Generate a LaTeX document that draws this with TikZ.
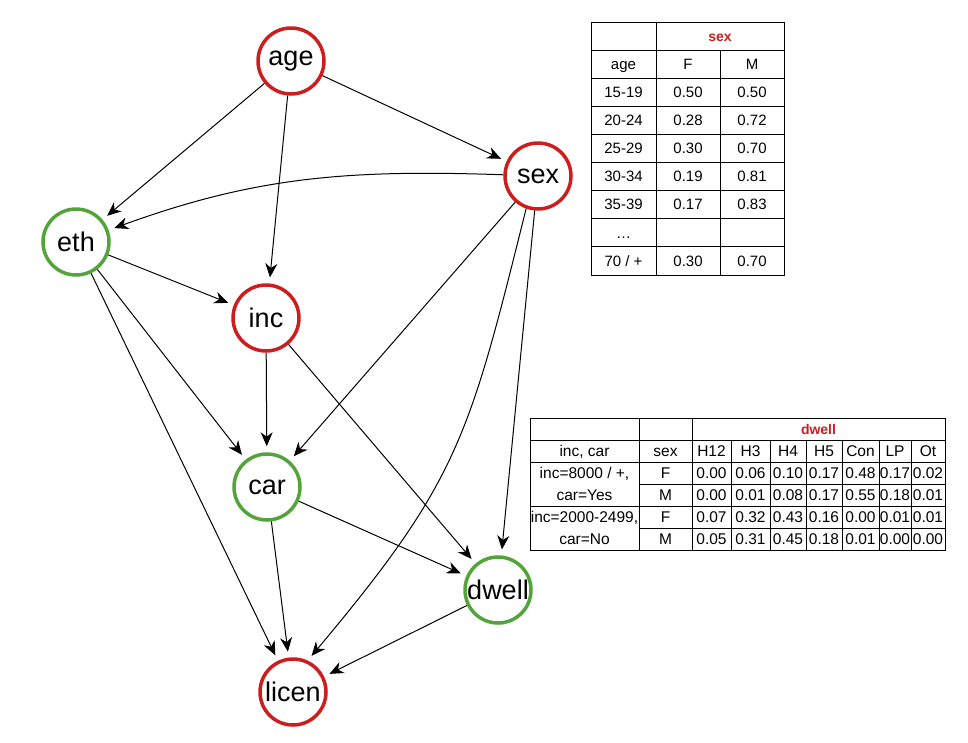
\documentclass[tikz,border=0pt]{standalone}
\usepackage{fontspec}
\setmainfont{Liberation Sans}
\usetikzlibrary{arrows.meta}
\definecolor{varred}{RGB}{204,30,30}
\definecolor{vargreen}{RGB}{84,164,60}

\begin{document}
\begin{tikzpicture}[x=1pt, y=1pt,
		var/.style={circle, draw, line width=3.5pt, minimum size=66pt, inner sep=0pt, font=\fontsize{27}{30}\selectfont},
		redvar/.style={var, draw=varred},
		greenvar/.style={var, draw=vargreen},
		dep/.style={-{Stealth[length=14pt, width=12pt, inset=4.5pt]}, line width=1pt, shorten >=6pt},
		grid/.style={line width=0.9pt},
		cell/.style={inner sep=0pt, text height=10.5pt, text depth=0pt, font=\fontsize{15}{17}\selectfont},
		dcell/.style={inner sep=0pt, text height=11pt, text depth=0pt, font=\fontsize{15.5}{17}\selectfont},
		headcell/.style={cell, text=varred, font=\bfseries\fontsize{14}{16}\selectfont}]
		
		\useasboundingbox (0,0) rectangle (968,-742);
		
		% Variables
		\node[redvar] (age) at (291,-61) {age};
		\node[redvar] (sex) at (538,-176) {sex};
		\node[greenvar] (eth) at (76,-242) {eth};
		\node[redvar] (inc) at (266,-318) {inc};
		\node[greenvar] (car) at (267,-487) {car};
		\node[greenvar] (dwell) at (498,-590) {dwell};
		\node[redvar] (licen) at (293,-692) {licen};
		
		% Dependencies
		\draw[dep] (age) -- (eth);
		\draw[dep] (age) -- (inc);
		\draw[dep] (age) -- (sex);
		\draw[dep] (sex) to[out=178, in=20] (eth);
		\draw[dep] (eth) -- (inc);
		\draw[dep] (eth) -- (car);
		\draw[dep] (eth) -- (licen);
		\draw[dep] (inc) -- (car);
		\draw[dep] (inc) -- (dwell);
		\draw[dep] (sex) -- (car);
		\draw[dep] (sex) -- (dwell);
		\draw[dep] (sex.250) to[out=256, in=50, looseness=1.2] (licen.65);
		\draw[dep] (car) -- (dwell);
		\draw[dep] (car) -- (licen);
		\draw[dep] (dwell) -- (licen);
		
		% Table sex
		\draw[grid] (591,-22) rectangle (784,-275);
		\foreach \k in {1,...,8}
			\draw[grid] (591,{-22-28.11*\k}) -- (784,{-22-28.11*\k});
		\draw[grid] (656,-22) -- (656,-275);
		\draw[grid] (720,-50.11) -- (720,-275);
		\node[headcell] (sexhead) at (720,-36) {sex};
		\foreach \r/\a/\f/\m in {2/age/F/M, 3/15-19/0.50/0.50, 4/20-24/0.28/0.72,
				5/25-29/0.30/0.70, 6/30-34/0.19/0.81, 7/35-39/0.17/0.83, 8/…//, 9/{70 / +}/0.30/0.70} {
			\node[cell] (s\r-a) at (623.5,{-22-28.11*(\r-0.5)}) {\a};
			\node[cell] (s\r-f) at (688,{-22-28.11*(\r-0.5)}) {\f};
			\node[cell] (s\r-m) at (752,{-22-28.11*(\r-0.5)}) {\m};
		}
		
		% Table dwell
		\draw[grid] (530,-418) rectangle (945,-550);
		\foreach \y in {-440,-462,-506}
			\draw[grid] (530,\y) -- (945,\y);
		\foreach \y in {-484,-528}
			\draw[grid] (639,\y) -- (945,\y);
		\foreach \x in {639,692}
			\draw[grid] (\x,-418) -- (\x,-550);
		\foreach \x in {731,770,806,842,879,911}
			\draw[grid] (\x,-440) -- (\x,-550);
		\node[dcell, text=varred, font=\bfseries\fontsize{14}{16}\selectfont] (dwellhead) at (818.5,-429) {dwell};
		\node[dcell] (dcond) at (584.5,-451) {inc, car};
		\node[dcell] (dsex) at (665.5,-451) {sex};
		\foreach \c/\x/\h in {1/711.5/H12, 2/750.5/H3, 3/788/H4, 4/824/H5, 5/860.5/Con, 6/895/LP, 7/928/Ot}
			\node[dcell] (h\c) at (\x,-451) {\h};
		\node[dcell] (dc1a) at (584.5,-473) {inc=8000 / +,};
		\node[dcell] (dc1b) at (584.5,-495) {car=Yes};
		\node[dcell] (dc2a) at (584.5,-517) {inc=2000-2499,};
		\node[dcell] (dc2b) at (584.5,-539) {car=No};
		\foreach \r/\y/\s/\vals in {3/-473/F/{0.00,0.06,0.10,0.17,0.48,0.17,0.02},
				4/-495/M/{0.00,0.01,0.08,0.17,0.55,0.18,0.01},
				5/-517/F/{0.07,0.32,0.43,0.16,0.00,0.01,0.01},
				6/-539/M/{0.05,0.31,0.45,0.18,0.01,0.00,0.00}} {
			\node[dcell] (d\r-s) at (665.5,\y) {\s};
			\foreach \v [count=\c] in \vals
				\node[dcell] (d\r-\c) at (h\c |- 0,\y) {\v};
		}
	\end{tikzpicture}
\end{document}
